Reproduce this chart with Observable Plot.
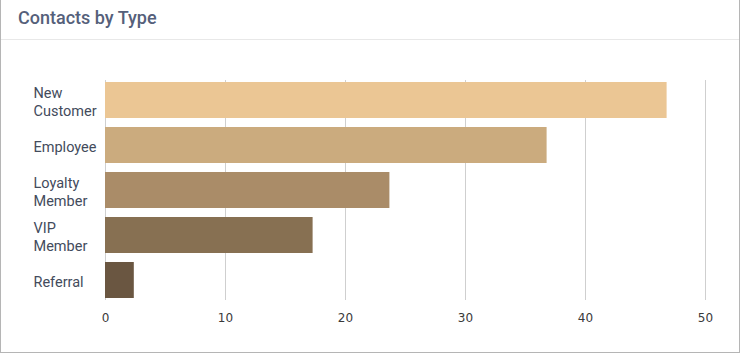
<!DOCTYPE html>
<html>
<head>
<meta charset="utf-8">
<script src="https://cdn.jsdelivr.net/npm/d3@7"></script>
<script src="https://cdn.jsdelivr.net/npm/@observablehq/plot@0.6"></script>
<style>
  html, body { margin: 0; padding: 0; background: #fff; }
  #card {
    box-sizing: border-box; width: 740px; height: 353px;
    border-left: 1px solid #b5b5b5; border-right: 1px solid #b5b5b5; border-bottom: 1px solid #b5b5b5;
    position: relative; overflow: hidden;
  }
  #title {
    height: 40px; border-bottom: 1px solid #e8e8e8; box-sizing: border-box;
    font-family: Roboto, sans-serif; font-weight: 500; font-size: 18px; color: #55607a;
    padding-left: 17px; line-height: 36px;
  }
  #chart svg { display: block; }
</style>
</head>
<body>
<div id="card">
  <div id="title">Contacts by Type</div>
  <div id="chart"></div>
</div>
<script>
const categories = ["New\nCustomer", "Employee", "Loyalty\nMember", "VIP\nMember", "Referral"];
const values = [46.8, 36.8, 23.7, 17.3, 2.4];
const colors = ["#ebc694", "#cbab7e", "#aa8c68", "#877052", "#6a5641"];
const xTicks = [0, 10, 20, 30, 40, 50];

const data = categories.map((c, i) => ({category: c, value: values[i], color: colors[i]}));

const chart = Plot.plot({
  width: 738,
  height: 312,
  marginLeft: 104,
  marginRight: 34,
  marginTop: 40,
  marginBottom: 52,
  style: {background: "transparent", overflow: "visible"},
  x: {domain: [0, 50], ticks: xTicks, label: null},
  y: {domain: categories, paddingInner: 0.2, paddingOuter: 0, label: null, axis: null},
  marks: [
    Plot.ruleX(xTicks, {stroke: "#cfcfcf", strokeWidth: 1}),
    Plot.barX(data, {y: "category", x: "value", fill: "color"}),
    Plot.axisX({ticks: xTicks, tickSize: 0, tickPadding: 13, fontFamily: "DejaVu Sans", fontSize: 12, fill: "#3a3a3a", label: null}),
    Plot.text(categories, {
      y: d => d, frameAnchor: "left", textAnchor: "start", dx: -72, dy: 1,
      fontFamily: "Roboto", fontSize: 14.5, fill: "#434b5c", lineHeight: 1.2, lineAnchor: "middle"
    })
  ]
});
document.getElementById("chart").appendChild(chart);
</script>
</body>
</html>
